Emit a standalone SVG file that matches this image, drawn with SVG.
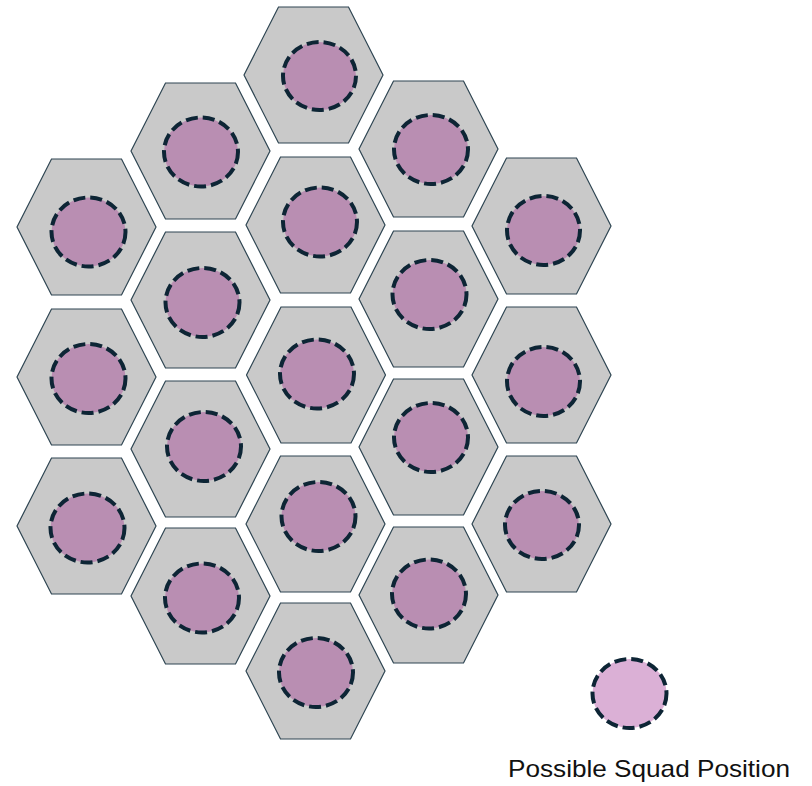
<svg xmlns="http://www.w3.org/2000/svg" width="812" height="786" viewBox="0 0 812 786">
<defs>
<style>
.hex{fill:#c9c9c9;stroke:#2e4552;stroke-width:1.2}
.pos{fill:#b98eb2;stroke:#0d2535;stroke-width:4;stroke-dasharray:12 5}
.legend{fill:#dbb0d6;stroke:#0d2535;stroke-width:4;stroke-dasharray:12 5}
.lbl{font-family:"Liberation Sans",Arial,sans-serif;font-size:24px;fill:#111}
</style>
<polygon id="hexShape" points="0,68 34.5,0 104.5,0 139,68 104.5,136 34.5,136"/>
</defs>
<rect width="812" height="786" fill="#ffffff"/>
<g id="connectors"></g>
<g id="c1r1"><use href="#hexShape" class="hex" x="17" y="159"/><ellipse class="pos" cx="88.5" cy="232" rx="37" ry="34.5"/></g>
<g id="c1r2"><use href="#hexShape" class="hex" x="17" y="309"/><ellipse class="pos" cx="88.5" cy="378.5" rx="37" ry="34.5"/></g>
<g id="c1r3"><use href="#hexShape" class="hex" x="17" y="458"/><ellipse class="pos" cx="87.5" cy="528" rx="37" ry="34.5"/></g>
<g id="c2r1"><use href="#hexShape" class="hex" x="131" y="83"/><ellipse class="pos" cx="201" cy="152" rx="37" ry="34.5"/></g>
<g id="c2r2"><use href="#hexShape" class="hex" x="131" y="232"/><ellipse class="pos" cx="202.5" cy="302.5" rx="37" ry="34.5"/></g>
<g id="c2r3"><use href="#hexShape" class="hex" x="131" y="381"/><ellipse class="pos" cx="204" cy="446.5" rx="37" ry="34.5"/></g>
<g id="c2r4"><use href="#hexShape" class="hex" x="131" y="528"/><ellipse class="pos" cx="202" cy="598" rx="37" ry="34.5"/></g>
<g id="c3r1"><use href="#hexShape" class="hex" x="244" y="7"/><ellipse class="pos" cx="319.5" cy="76" rx="36.5" ry="34"/></g>
<g id="c3r2"><use href="#hexShape" class="hex" x="246" y="157"/><ellipse class="pos" cx="320" cy="222" rx="37" ry="34.5"/></g>
<g id="c3r3"><use href="#hexShape" class="hex" x="246.5" y="307"/><ellipse class="pos" cx="317" cy="374" rx="37" ry="34.5"/></g>
<g id="c3r4"><use href="#hexShape" class="hex" x="246" y="456"/><ellipse class="pos" cx="318.5" cy="516.5" rx="37" ry="34.5"/></g>
<g id="c3r5"><use href="#hexShape" class="hex" x="246" y="603"/><ellipse class="pos" cx="316" cy="672.5" rx="37" ry="34.5"/></g>
<g id="c4r1"><use href="#hexShape" class="hex" x="359" y="81"/><ellipse class="pos" cx="431" cy="149.5" rx="37" ry="34.5"/></g>
<g id="c4r2"><use href="#hexShape" class="hex" x="359" y="231"/><ellipse class="pos" cx="429.5" cy="294.5" rx="37" ry="34.5"/></g>
<g id="c4r3"><use href="#hexShape" class="hex" x="359" y="379"/><ellipse class="pos" cx="431" cy="437.5" rx="37" ry="34.5"/></g>
<g id="c4r4"><use href="#hexShape" class="hex" x="359" y="527"/><ellipse class="pos" cx="429" cy="594" rx="37" ry="34.5"/></g>
<g id="c5r1"><use href="#hexShape" class="hex" x="472" y="158"/><ellipse class="pos" cx="543.5" cy="230.5" rx="36.5" ry="34.5"/></g>
<g id="c5r2"><use href="#hexShape" class="hex" x="472" y="307"/><ellipse class="pos" cx="543.5" cy="381.5" rx="36.5" ry="34.5"/></g>
<g id="c5r3"><use href="#hexShape" class="hex" x="472" y="456"/><ellipse class="pos" cx="542" cy="525" rx="37" ry="34"/></g>
<g id="legend">
<ellipse class="legend" cx="629.5" cy="693.5" rx="37" ry="34.5"/>
<text class="lbl" x="508" y="777" textLength="282" lengthAdjust="spacingAndGlyphs">Possible Squad Position</text>
</g>
</svg>
